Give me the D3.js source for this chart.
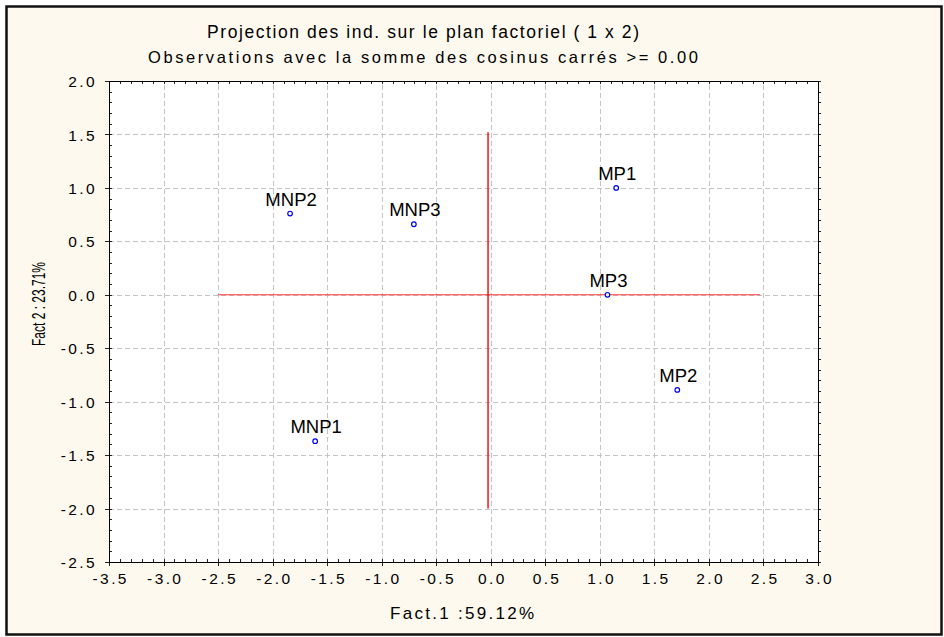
<!DOCTYPE html>
<html>
<head>
<meta charset="utf-8">
<script src="https://cdn.jsdelivr.net/npm/d3@7"></script>
<style>
  body { margin: 0; background: #fff; }
  svg text { font-family: Arial, "Liberation Sans", sans-serif; fill: #000; }
</style>
</head>
<body>
<div id="chart"></div>
<script>
// individus projetes sur le plan factoriel (Fact.1, Fact.2)
const labels = ["MNP1", "MNP2", "MNP3", "MP1", "MP2", "MP3"];
const fact1 = [-1.61, -1.84, -0.705, 1.15, 1.71, 1.07];
const fact2 = [-1.37, 0.76, 0.66, 1.00, -0.89, 0.00];

const xTicks = [-3.5, -3.0, -2.5, -2.0, -1.5, -1.0, -0.5, 0.0, 0.5, 1.0, 1.5, 2.0, 2.5, 3.0];
const yTicks = [2.0, 1.5, 1.0, 0.5, 0.0, -0.5, -1.0, -1.5, -2.0, -2.5];

// axes rouges (origine)
const hAxisX = [-2.5, 2.47];
const vAxisY = [1.52, -2.0];
const vAxisX = -0.025;

const titles = ["Projection des ind. sur le plan factoriel ( 1 x  2)",
                "Observations avec la somme des cosinus carrés >= 0.00"];
const xLabel = "Fact.1 :59.12%";
const yLabel = "Fact 2 : 23.71%";

const W = 944, H = 637;
const pLeft = 109, pRight = 818, pTop = 81, pBottom = 562;

const svg = d3.select("#chart").append("svg")
  .attr("width", W).attr("height", H);

// fond creme + cadre
svg.append("rect").attr("x", 6.5).attr("y", 6.5).attr("width", 935).attr("height", 628)
  .attr("fill", "#fef9ee").attr("stroke", "#111").attr("stroke-width", 2.5);

const x = d3.scaleLinear().domain([-3.5, 3.0]).range([pLeft, pRight]);
const y = d3.scaleLinear().domain([-2.5, 2.0]).range([pBottom, pTop]);
const fmt = d => d.toFixed(1);

svg.append("rect").attr("x", pLeft).attr("y", pTop)
  .attr("width", pRight - pLeft).attr("height", pBottom - pTop).attr("fill", "#fff");

// grille pointillee
const gridX = svg.append("g").attr("transform", `translate(0,${pBottom})`)
  .call(d3.axisBottom(x).tickValues(xTicks.slice(1, -1)).tickSize(-(pBottom - pTop)).tickFormat(""));
const gridY = svg.append("g").attr("transform", `translate(${pLeft},0)`)
  .call(d3.axisLeft(y).tickValues(yTicks.slice(1, -1)).tickSize(-(pRight - pLeft)).tickFormat(""));
[gridX, gridY].forEach(g => {
  g.select(".domain").remove();
  g.selectAll("line").attr("stroke", "#c4c4c4").attr("stroke-dasharray", "5,3").attr("shape-rendering", "crispEdges");
});

// petites graduations (0.1)
const minorX = d3.range(-35, 31).map(d => d / 10);
const minorY = d3.range(-25, 21).map(d => d / 10);
const tickStyle = g => { g.select(".domain").remove(); g.selectAll("line").attr("stroke", "#222").attr("shape-rendering", "crispEdges"); };
svg.append("g").attr("transform", `translate(0,${pBottom})`)
  .call(d3.axisBottom(x).tickValues(minorX).tickSize(-3).tickFormat("")).call(tickStyle);
svg.append("g").attr("transform", `translate(0,${pTop})`)
  .call(d3.axisTop(x).tickValues(minorX).tickSize(-3).tickFormat("")).call(tickStyle);
svg.append("g").attr("transform", `translate(${pLeft},0)`)
  .call(d3.axisLeft(y).tickValues(minorY).tickSize(-3).tickFormat("")).call(tickStyle);
svg.append("g").attr("transform", `translate(${pRight},0)`)
  .call(d3.axisRight(y).tickValues(minorY).tickSize(3).tickFormat("")).call(tickStyle);

// axes principaux avec etiquettes
const xAxis = svg.append("g").attr("transform", `translate(0,${pBottom})`)
  .call(d3.axisBottom(x).tickValues(xTicks).tickSize(4).tickPadding(7).tickFormat(fmt));
const yAxis = svg.append("g").attr("transform", `translate(${pLeft},0)`)
  .call(d3.axisLeft(y).tickValues(yTicks).tickSize(4).tickPadding(8).tickFormat(fmt));
[xAxis, yAxis].forEach(g => {
  g.select(".domain").remove();
  g.selectAll("line").attr("stroke", "#222").attr("shape-rendering", "crispEdges");
  g.selectAll("text").style("font-size", "15.5px").style("letter-spacing", "2.4px")
    .attr("fill", "#000");
});
xAxis.selectAll("text").attr("dx", "1.2px");
yAxis.selectAll("text").attr("dy", "0.36em");

// cadre du trace
svg.append("rect").attr("x", pLeft).attr("y", pTop)
  .attr("width", pRight - pLeft).attr("height", pBottom - pTop)
  .attr("fill", "none").attr("stroke", "#000").attr("stroke-width", 1).attr("shape-rendering", "crispEdges");

// lignes rouges
svg.append("line")
  .attr("x1", x(hAxisX[0])).attr("x2", x(hAxisX[1]))
  .attr("y1", y(0)).attr("y2", y(0))
  .attr("stroke", "#f33").attr("stroke-width", 1);
svg.append("line")
  .attr("x1", x(vAxisX)).attr("x2", x(vAxisX))
  .attr("y1", y(vAxisY[0])).attr("y2", y(vAxisY[1]))
  .attr("stroke", "#f00").attr("stroke-width", 1.4);

// points + etiquettes
const pts = labels.map((l, i) => ({ l, f1: fact1[i], f2: fact2[i] }));
svg.append("g").selectAll("circle").data(pts).enter().append("circle")
  .attr("cx", d => x(d.f1)).attr("cy", d => y(d.f2)).attr("r", 2.3)
  .attr("fill", "#fff").attr("stroke", "#0000ff").attr("stroke-width", 1.2);
svg.append("g").selectAll("text").data(pts).enter().append("text")
  .attr("x", d => x(d.f1) + 1).attr("y", d => y(d.f2) - 8)
  .attr("text-anchor", "middle").style("font-size", "18.5px")
  .text(d => d.l);

// titres
svg.append("text").attr("x", 423).attr("y", 38).attr("text-anchor", "middle")
  .style("font-size", "17.5px").attr("textLength", 432).attr("lengthAdjust", "spacing")
  .text(titles[0]);
svg.append("text").attr("x", 423).attr("y", 63).attr("text-anchor", "middle")
  .style("font-size", "16.5px").attr("textLength", 550).attr("lengthAdjust", "spacing")
  .text(titles[1]);

// titres des axes
svg.append("text").attr("x", 462).attr("y", 619).attr("text-anchor", "middle")
  .style("font-size", "17px").attr("textLength", 144).attr("lengthAdjust", "spacing")
  .text(xLabel);
svg.append("text").attr("transform", "translate(44.5,304) rotate(-90)").attr("text-anchor", "middle")
  .style("font-size", "18px").attr("textLength", 84).attr("lengthAdjust", "spacingAndGlyphs")
  .text(yLabel);
</script>
</body>
</html>
